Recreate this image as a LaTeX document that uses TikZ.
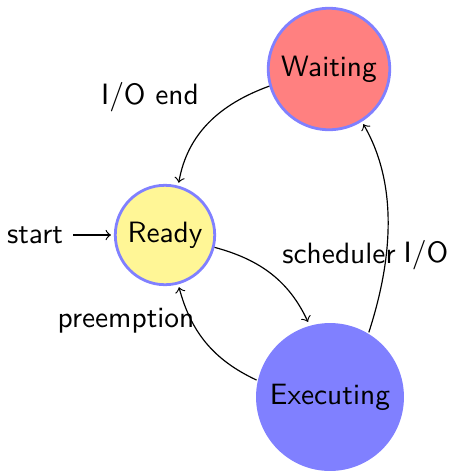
\documentclass[tikz,border=0pt]{standalone}
\usepackage{tikz}
\definecolor{readyfill}{RGB}{255,246,150}

\begin{document}
\begin{tikzpicture}[x=0.34pt,y=-0.34pt,font=\sffamily,
   state/.style={circle,draw=blue!50,line width=0.95pt,inner sep=0pt},
   trans/.style={->,shorten >=1pt}]
   \useasboundingbox (0,0) rectangle (451,473);

   \node[state,fill=readyfill,minimum size=33.8pt] (ready) at (165,235) {Ready};
   \node[state,fill=red!50,minimum size=41.3pt] (waiting) at (329,69) {Waiting};
   \node[state,fill=blue!50,draw=none,minimum size=50.3pt] (executing) at (330,397) {Executing};
   \node (start) at (35,235) {start};

   % transition labels
   \node (ioend) at (150,97) {I/O end};
   \node (sched) at (339,253) {scheduler};
   \node (preempt) at (126,321) {preemption};
   \node (io) at (426,255) {I/O};

   \draw[trans] (start) -- (ready);
   \draw[trans] (waiting.196) to[out=200,in=80] (ready.75);
   \draw[trans] (ready.-14) to[out=-15,in=115] (executing.106);
   \draw[trans] (executing.167) to[out=155,in=-75] (ready.-75);
   \draw[trans] (executing.59) to[out=72,in=-60,looseness=0.9] (waiting.-58);
\end{tikzpicture}
\end{document}
